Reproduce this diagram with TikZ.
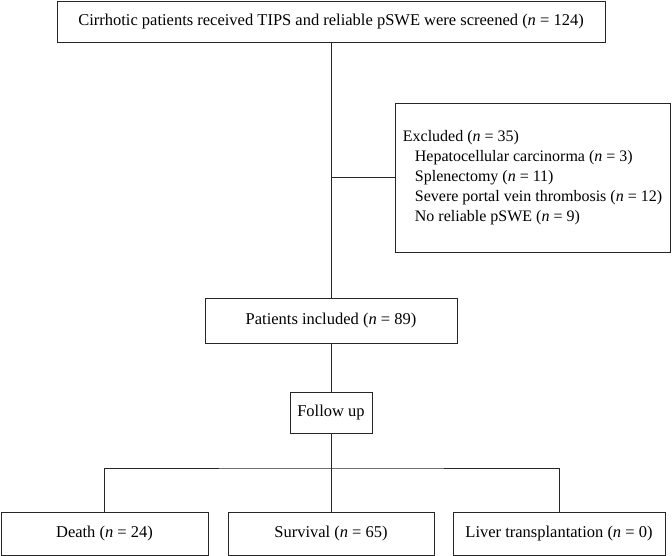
\documentclass[tikz,border=0pt]{standalone}
\usepackage{fontspec}
\setmainfont{Liberation Serif}
\begin{document}
\begin{tikzpicture}[x=1pt,y=-1pt,
  box/.style={draw=black!85, line width=0.9pt, inner sep=0pt, font=\fontsize{16.5}{20}\selectfont},
  link/.style={draw=black!85, line width=0.9pt}]
\useasboundingbox (0,0) rectangle (672,556);
\node[box, minimum width=548pt, minimum height=41pt] (screen) at (331,21.5){Cirrhotic patients received TIPS and reliable pSWE were screened (\textit{n} = 124)};
\node[box, minimum width=275pt, minimum height=149pt, align=left, font=\fontsize{16}{20}\selectfont] (excl) at (532.5,177.5){Excluded (\textit{n} = 35)\\
\hspace*{12pt}Hepatocellular carcinorma (\textit{n} = 3)\\
\hspace*{12pt}Splenectomy (\textit{n} = 11)\\
\hspace*{12pt}Severe portal vein thrombosis (\textit{n} = 12)\\
\hspace*{12pt}No reliable pSWE (\textit{n} = 9)};
\node[box, minimum width=252pt, minimum height=45pt] (incl) at (331,320.5){Patients included (\textit{n} = 89)};
\node[box, minimum width=82pt, minimum height=41pt] (follow) at (331,412.5){Follow up};
\node[box, minimum width=207pt, minimum height=43pt] (death) at (104.5,533.5){Death (\textit{n} = 24)};
\node[box, minimum width=206pt, minimum height=43pt] (surv) at (331,533.5){Survival (\textit{n} = 65)};
\node[box, minimum width=212pt, minimum height=43pt] (liver) at (559,533.5){Liver transplantation (\textit{n} = 0)};
\coordinate (branch) at (331,177.5);
\coordinate (split) at (331,468);
\draw[link](screen) -- (incl);
\draw[link](branch) -- (excl.west);
\draw[link](incl) -- (follow);
\draw[link](follow) -- (split);
\draw[link](split) -- (surv);
\draw[link](death.north) |- (split) -| (liver.north);
\end{tikzpicture}
\end{document}
